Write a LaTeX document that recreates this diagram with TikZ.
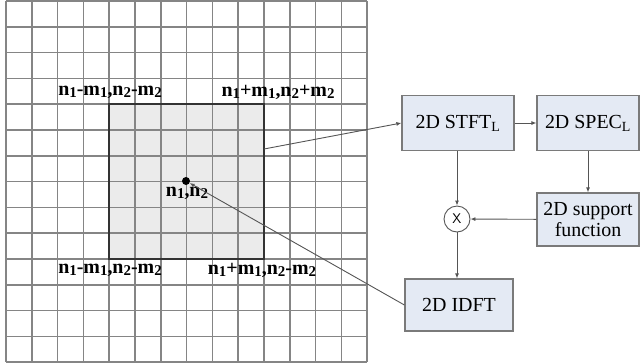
\documentclass[tikz,border=0pt]{standalone}
\usepackage{fontspec}
\setmainfont{Liberation Serif}
\usetikzlibrary{arrows.meta}
\definecolor{gridgray}{HTML}{858585}
\definecolor{boxfill}{HTML}{E4EAF4}
\definecolor{boxline}{HTML}{7A7A7A}
\definecolor{sqfill}{HTML}{EBEBEB}
\definecolor{linegray}{HTML}{555555}
\newcommand{\lowidx}[1]{\raisebox{-0.3ex}{\fontsize{15}{15}\selectfont #1}}
\begin{document}
\begin{tikzpicture} [x = 1bp, y = -1bp,
	block/.style = {draw = boxline, line width = 1.2bp, fill = boxfill, minimum height = 55bp, inner sep = 0pt, align = center, font = \fontsize{20}{22}\selectfont},
	corner/.style = {font = \fontsize{20}{22}\selectfont\bfseries, inner sep = 0pt},
	flow/.style = {draw = linegray, line width = 0.9bp, -{Latex[length = 5bp, width = 4bp]}}]
	\useasboundingbox (0,0) rectangle (642,362);
	% the pixel grid
	\fill [sqfill] (109,104) rectangle (264,259);
	\foreach \i in {0,...,14} {
		\draw [gridgray, line width = 1.5bp] ({6+25.8*\i},1) -- ({6+25.8*\i},362);
		\draw [gridgray, line width = 1.5bp] (6,{1+25.8*\i}) -- (367,{1+25.8*\i});
	}
	\draw [black!80, line width = 1.6bp] (109,104) rectangle (264,259);
	\node [corner] (tl) at (110,92) {n\lowidx{1}-m\lowidx{1},n\lowidx{2}-m\lowidx{2}};
	\node [corner] (tr) at (278,92) {n\lowidx{1}+m\lowidx{1},n\lowidx{2}+m\lowidx{2}};
	\node [corner] (bl) at (110,270) {n\lowidx{1}-m\lowidx{1},n\lowidx{2}-m\lowidx{2}};
	\node [corner] (br) at (262,270) {n\lowidx{1}+m\lowidx{1},n\lowidx{2}-m\lowidx{2}};
	\node [circle, fill = black, inner sep = 0pt, minimum size = 8bp] (ctr) at (186,181) {};
	\node [corner] (ctrlbl) at (187,193) {n\lowidx{1},n\lowidx{2}};
	\coordinate (sqout) at (264,149);
	% processing chain
	\node [block, minimum width = 112bp] (stft) at (458,123) {2D STFT\textsubscript{L}};
	\node [block, minimum width = 102bp] (spec) at (588,123) {2D SPEC\textsubscript{L}};
	\node [block, minimum width = 102bp, minimum height = 53bp] (supp) at (588,219.5) {2D support\\function};
	\node [circle, draw = linegray, line width = 0.9bp, fill = white, minimum size = 26bp, inner sep = 0pt, font = \sffamily\fontsize{14}{14}\selectfont] (mult) at (457,219) {X};
	\node [block, minimum width = 108bp, minimum height = 52bp] (idft) at (459,305) {2D IDFT};
	\draw [flow] (sqout) -- (stft.west);
	\draw [flow] (stft) -- (spec);
	\draw [flow] (spec) -- (supp);
	\draw [flow] (stft.south -| mult) -- (mult);
	\draw [flow] (supp) -- (mult);
	\draw [flow] (mult) -- (idft.north -| mult);
	\draw [flow] (idft.west) -- (ctr);
\end{tikzpicture}
\end{document}
